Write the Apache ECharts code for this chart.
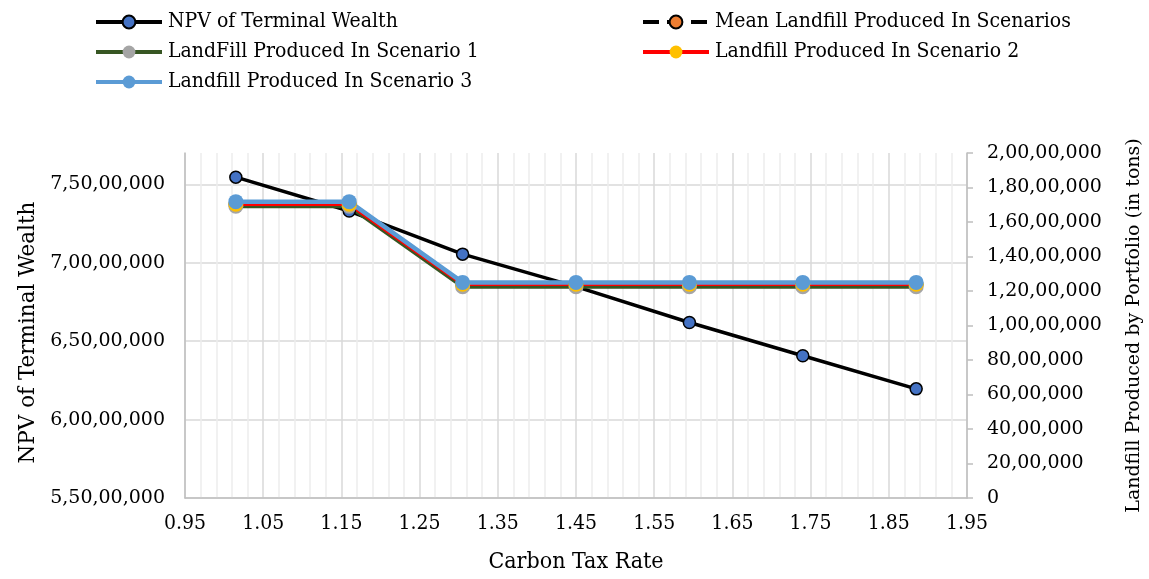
<!DOCTYPE html>
<html>
<head>
<meta charset="utf-8">
<script src="https://cdn.jsdelivr.net/npm/echarts@6/dist/echarts.min.js"></script>
<style>
html,body{margin:0;padding:0;background:#fff;}
#chart{width:1149px;height:579px;}
</style>
</head>
<body>
<div id="chart"></div>
<script>
// ---- data ----
const carbonTaxRate = [1.015, 1.16, 1.305, 1.45, 1.595, 1.74, 1.885];
const npvTerminalWealth = [75460000, 73300000, 70550000, 68480000, 66190000, 64070000, 61960000];
const meanLandfill = [17040000, 17040000, 12380000, 12380000, 12380000, 12380000, 12380000];
const landfillScenario1 = [16910000, 16910000, 12250000, 12250000, 12250000, 12250000, 12250000];
const landfillScenario2 = [17030000, 17030000, 12390000, 12390000, 12390000, 12390000, 12390000];
const landfillScenario3 = [17180000, 17180000, 12500000, 12500000, 12500000, 12500000, 12500000];
const seriesNames = [
  'NPV of Terminal Wealth',
  'Mean Landfill Produced In Scenarios',
  'LandFill Produced In Scenario 1',
  'Landfill Produced In Scenario 2',
  'Landfill Produced In Scenario 3'
];
const xAxisTitle = 'Carbon Tax Rate';
const leftAxisTitle = 'NPV of Terminal Wealth';
const rightAxisTitle = 'Landfill Produced by Portfolio (in tons)';

function indian(n) {
  const s = String(Math.round(n));
  if (s.length <= 3) return s;
  const last3 = s.slice(-3);
  const rest = s.slice(0, -3).replace(/\B(?=(\d{2})+(?!\d))/g, ',');
  return rest + ',' + last3;
}
function pairs(ys) { return carbonTaxRate.map((x, i) => [x, ys[i]]); }

const serifC = "'DejaVu Serif Condensed', 'DejaVu Serif', serif";
const serif = "'DejaVu Serif', serif";
const GRID = '#d9d9d9';
const MINOR = '#ececec';
const AXIS = '#bfbfbf';
const NONE = 'rgba(0,0,0,0)';

const xColors = [GRID, NONE, MINOR, NONE, MINOR, NONE, MINOR, NONE, MINOR, NONE];

const chart = echarts.init(document.getElementById('chart'), null, {renderer: 'canvas'});
const legendText = {fontFamily: serifC, fontSize: 21, color: '#000', lineHeight: 22, padding: [0, 0, 0, 1]};
const legendCommon = {orient: 'vertical', itemGap: 8, itemWidth: 66, itemHeight: 16,
  lineStyle: {width: 4}, textStyle: legendText};
chart.setOption({
  animation: false,
  backgroundColor: '#fff',
  legend: [
    Object.assign({left: 89, top: 6, data: [seriesNames[0], seriesNames[2], seriesNames[4]]}, legendCommon),
    Object.assign({left: 636, top: 6, data: [seriesNames[1], seriesNames[3]]}, legendCommon)
  ],
  grid: {left: 185, right: 182, top: 153, bottom: 81, containLabel: false, outerBoundsMode: 'none'},
  xAxis: {
    type: 'value', min: 0.95, max: 1.95, interval: 0.01,
    name: xAxisTitle, nameLocation: 'middle', nameGap: 53,
    nameTextStyle: {fontFamily: serifC, fontSize: 23, color: '#000'},
    axisLine: {show: true, lineStyle: {color: AXIS, width: 1.5}},
    axisTick: {show: false},
    axisLabel: {
      margin: 15, fontFamily: serifC, fontSize: 21, color: '#000',
      formatter: v => (Math.round(v * 100) % 10 === 5 ? (Math.round(v * 100) / 100).toFixed(2) : '')
    },
    splitLine: {show: true, lineStyle: {color: xColors, width: 1.5}}
  },
  yAxis: [
    {
      type: 'value', position: 'left', min: 55000000, max: 77000000, interval: 5000000,
      name: leftAxisTitle, nameLocation: 'middle', nameGap: 145,
      nameTextStyle: {fontFamily: serif, fontSize: 21.5, color: '#000', padding: [0, 14, 0, 0]},
      axisLine: {show: true, lineStyle: {color: AXIS, width: 1.5}},
      axisTick: {show: false},
      axisLabel: {margin: 20, fontFamily: serif, fontSize: 19, color: '#000',
        formatter: v => (Math.round(v) % 5000000 === 0 ? indian(v) : '')},
      splitLine: {show: true, lineStyle: {color: [GRID, GRID, GRID, GRID, GRID, NONE], width: 1.5}}
    },
    {
      type: 'value', position: 'right', min: 0, max: 20000000, interval: 2000000,
      name: rightAxisTitle, nameLocation: 'middle', nameGap: 158, nameRotate: 90,
      nameTextStyle: {fontFamily: serif, fontSize: 19, color: '#000'},
      axisLine: {show: true, lineStyle: {color: AXIS, width: 1.5}},
      axisTick: {show: true, inside: false, length: 6, lineStyle: {color: AXIS, width: 1.5}},
      axisLabel: {margin: 20, fontFamily: serif, fontSize: 19, color: '#000', formatter: v => indian(v)},
      splitLine: {show: false}
    }
  ],
  series: [
    {
      name: seriesNames[0], type: 'line', yAxisIndex: 0, data: pairs(npvTerminalWealth),
      symbol: 'circle', symbolSize: 12,
      lineStyle: {color: '#000', width: 3.5},
      itemStyle: {color: '#4472C4', borderColor: '#000', borderWidth: 1.5}
    },
    {
      name: seriesNames[1], type: 'line', yAxisIndex: 1, data: pairs(meanLandfill),
      symbol: 'circle', symbolSize: 13,
      lineStyle: {color: '#000', width: 3, type: 'dashed'},
      itemStyle: {color: '#ED7D31', borderColor: '#000', borderWidth: 1.5, borderType: 'dashed'}
    },
    {
      name: seriesNames[2], type: 'line', yAxisIndex: 1, data: pairs(landfillScenario1),
      symbol: 'circle', symbolSize: 15,
      lineStyle: {color: '#375623', width: 4},
      itemStyle: {color: '#A5A5A5', borderWidth: 0}
    },
    {
      name: seriesNames[3], type: 'line', yAxisIndex: 1, data: pairs(landfillScenario2),
      symbol: 'circle', symbolSize: 15,
      lineStyle: {color: '#FF0000', width: 3.5},
      itemStyle: {color: '#FFC000', borderWidth: 0}
    },
    {
      name: seriesNames[4], type: 'line', yAxisIndex: 1, data: pairs(landfillScenario3),
      symbol: 'circle', symbolSize: 15,
      lineStyle: {color: '#5B9BD5', width: 4.5},
      itemStyle: {color: '#5B9BD5', borderWidth: 0}
    }
  ]
});
</script>
</body>
</html>
